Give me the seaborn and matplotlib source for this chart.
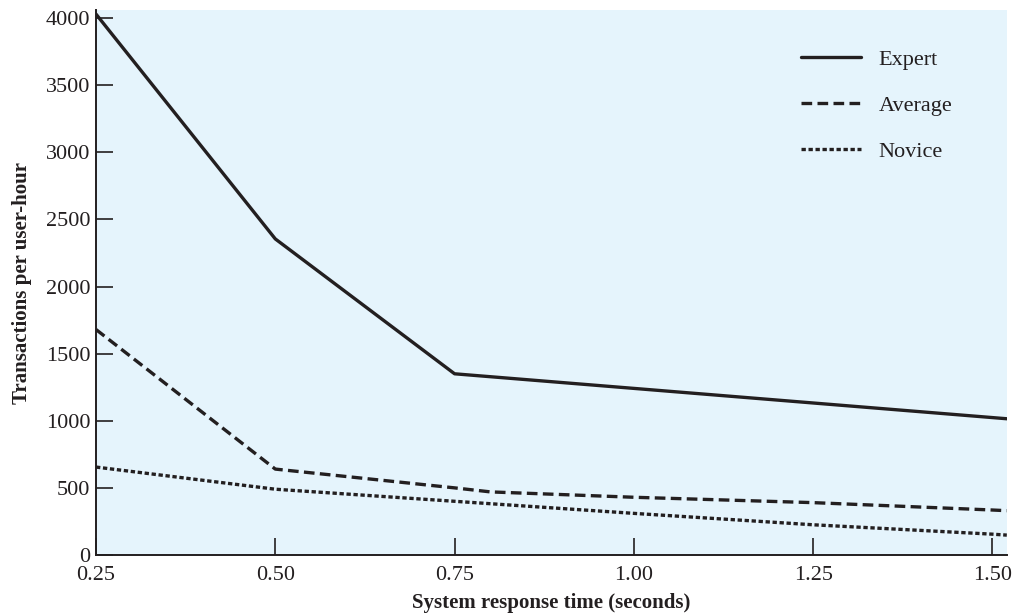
import matplotlib
matplotlib.use("Agg")
import matplotlib.pyplot as plt
import seaborn as sns
import pandas as pd

x_expert = [0.25, 0.50, 0.75, 1.52]
y_expert = [4030, 2355, 1350, 1015]

x_average = [0.25, 0.50, 0.75, 0.80, 1.00, 1.25, 1.50, 1.52]
y_average = [1680, 640, 500, 470, 430, 390, 335, 330]

x_novice = [0.25, 0.50, 0.75, 1.00, 1.25, 1.50, 1.52]
y_novice = [655, 490, 400, 310, 225, 155, 148]

series_names = ["Expert", "Average", "Novice"]
xticks = [0.25, 0.50, 0.75, 1.00, 1.25, 1.50]
xtick_labels = ["0.25", "0.50", "0.75", "1.00", "1.25", "1.50"]
yticks = [0, 500, 1000, 1500, 2000, 2500, 3000, 3500, 4000]

sns.set_theme(style="ticks")
plt.rcParams["font.family"] = ["Liberation Serif", "DejaVu Serif"]

df = pd.concat([
    pd.DataFrame({"x": x_expert, "y": y_expert, "s": "Expert"}),
    pd.DataFrame({"x": x_average, "y": y_average, "s": "Average"}),
    pd.DataFrame({"x": x_novice, "y": y_novice, "s": "Novice"}),
])

fig = plt.figure(figsize=(10.18, 6.15), dpi=100)
ax = fig.add_axes([0.0943, 0.0976, 0.8947, 0.886])
ax.set_facecolor("#E5F4FC")

styles = {"Expert": (None, None), "Average": (3.2, 1.6), "Novice": (1.3, 0.8)}
for name in series_names:
    sub = df[df["s"] == name]
    sns.lineplot(data=sub, x="x", y="y", ax=ax, color="#231F20", linewidth=2.4,
                 label=name, sort=False)
    line = ax.lines[-1]
    if styles[name][0] is not None:
        line.set_dashes(styles[name])

ax.set_xlim(0.25, 1.52)
ax.set_ylim(0, 4060)
ax.set_xticks(xticks)
ax.set_xticklabels(xtick_labels)
ax.set_yticks(yticks)
ax.tick_params(direction="in", length=12, width=1.2, colors="#231F20",
               labelsize=16)
ax.tick_params(axis="x", pad=8)
ax.tick_params(axis="y", pad=4)
for lbl in ax.get_xticklabels() + ax.get_yticklabels():
    lbl.set_color("#231F20")
for s in ["top", "right"]:
    ax.spines[s].set_visible(False)
for s in ["left", "bottom"]:
    ax.spines[s].set_color("#231F20")
    ax.spines[s].set_linewidth(1.4)

ax.set_xlabel("System response time (seconds)", fontsize=15, fontweight="bold",
              color="#231F20", labelpad=6)
ax.set_ylabel("Transactions per user-hour", fontsize=15, fontweight="bold",
              color="#231F20", labelpad=10)

leg = ax.legend(loc="upper right", bbox_to_anchor=(0.962, 0.965), frameon=False,
                fontsize=16, handlelength=2.7, labelspacing=1.15, handletextpad=0.8)
for t in leg.get_texts():
    t.set_color("#231F20")

fig.savefig("out.png", dpi=100)
